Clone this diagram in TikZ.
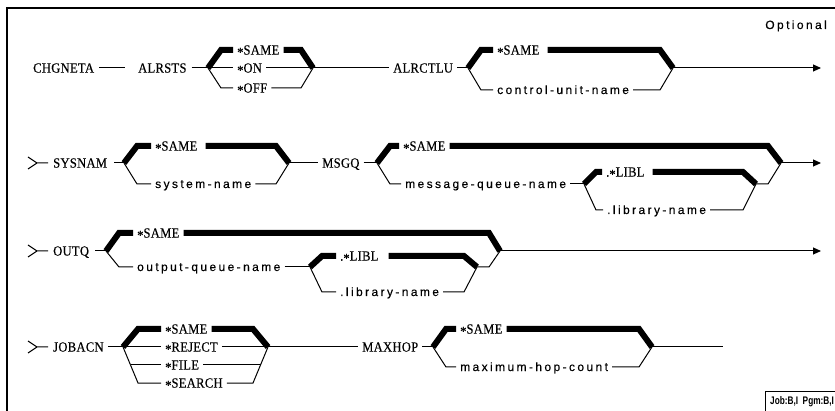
\documentclass[tikz,border=0pt]{standalone}
\usepackage{fontspec}
\usetikzlibrary{arrows.meta}
\setmainfont{Liberation Serif}
\newfontfamily\ucfont[LetterSpace=2,FakeStretch=0.9,FakeBold=0.3]{Liberation Serif}
\newfontfamily\lcfont[LetterSpace=20,FakeBold=0.3]{Liberation Sans}
\newfontfamily\jobfont{Liberation Sans}
\newcommand\Ast{\raisebox{-2.4pt}{*}}
\tikzset{
  kw/.style={inner xsep=4pt, inner ysep=0pt, anchor=west, font=\ucfont\fontsize{14}{16}\selectfont, text height=9.2pt, text depth=0pt},
  vr/.style={inner xsep=4pt, inner ysep=0pt, anchor=west, font=\lcfont\fontsize{12}{14}\selectfont, text height=8pt, text depth=0pt},
  ln/.style={line width=1pt},
  hv/.style={line width=6pt, miter limit=10},
  arr/.style={line width=1pt, -{Triangle[length=8pt,width=7pt]}},
  frame/.style={line width=1.3pt},
}
\begin{document}
\begin{tikzpicture}[x=1pt,y=-1pt]
\useasboundingbox (0,0) rectangle (835,411);
% frame
\draw[frame] (7,411) -- (7,8) -- (835,8);
\node[vr, anchor=east] (optional) at (831,25) {Optional};

% ---------------- Row 1 ----------------
\node[kw] (chg) at (29,68) {CHGNETA};
\node[kw] (alrsts) at (134,68) {ALRSTS};
\draw[ln, shorten <=1pt, shorten >=9pt] (chg.east) -- (alrsts.west);
\coordinate (a1) at (208,68);
\draw[ln, shorten <=1pt] (alrsts.east) -- (a1);
\coordinate (a1t) at (221,50);
\coordinate (a1b) at (221,88);
\node[kw] (a1same) at (233,50) {\Ast SAME};
\node[kw] (a1on) at (233,68) {\Ast ON};
\node[kw] (a1off) at (233,88) {\Ast OFF};
\draw[hv] (a1) -- (a1t) -- (a1same.west);
\draw[ln] (a1) -- (a1on.west);
\draw[ln] (a1) -- (a1b) -- (a1off.west);
\coordinate (a2) at (313,68);
\coordinate (a2t) at (301,50);
\coordinate (a2b) at (301,88);
\draw[hv] (a1same.east) -- (a2t) -- (a2);
\draw[ln] (a1on.east) -- (a2);
\draw[ln] (a1off.east) -- (a2b) -- (a2);
\node[kw] (alrctlu) at (389,68) {ALRCTLU};
\draw[ln] (a2) -- (alrctlu.west);
\coordinate (b1) at (468,68);
\draw[ln] (alrctlu.east) -- (b1);
\coordinate (b1t) at (481,50);
\coordinate (b1b) at (481,90);
\node[kw] (b1same) at (493,50) {\Ast SAME};
\node[vr] (cun) at (493,90) {control-unit-name};
\draw[hv] (b1) -- (b1t) -- (b1same.west);
\draw[ln] (b1) -- (b1b) -- (cun.west);
\coordinate (b2) at (673,68);
\coordinate (b2t) at (660,50);
\coordinate (b2b) at (660,90);
\draw[hv, shorten <=4pt] (b1same.east) -- (b2t) -- (b2);
\draw[ln] (cun.east) -- (b2b) -- (b2);
\coordinate (e1) at (821,68);
\draw[arr] (b2) -- (e1);

% ---------------- Row 2 ----------------
\draw[ln] (28,157) -- (37,163) -- (28,169) (37,163) -- (48,163);
\node[kw] (sysnam) at (49,163) {SYSNAM};
\coordinate (c1) at (124,163);
\draw[ln, shorten <=3pt] (sysnam.east) -- (c1);
\coordinate (c1t) at (137,146);
\coordinate (c1b) at (137,184);
\node[kw] (c1same) at (151,146) {\Ast SAME};
\node[vr] (sysn) at (151,184) {system-name};
\draw[hv] (c1) -- (c1t) -- (c1same.west);
\draw[ln] (c1) -- (c1b) -- (sysn.west);
\coordinate (c2) at (289,163);
\coordinate (c2t) at (276,146);
\coordinate (c2b) at (276,184);
\draw[hv, shorten <=4pt] (c1same.east) -- (c2t) -- (c2);
\draw[ln] (sysn.east) -- (c2b) -- (c2);
\node[kw] (msgq) at (318,163) {MSGQ};
\draw[ln] (c2) -- (msgq.west);
\coordinate (d1) at (377,163);
\draw[ln] (msgq.east) -- (d1);
\coordinate (d1t) at (390,146);
\coordinate (d1b) at (390,184);
\node[kw] (d1same) at (399,146) {\Ast SAME};
\node[vr] (mqn) at (401,184) {message-queue-name};
\draw[hv] (d1) -- (d1t) -- (d1same.west);
\draw[ln] (d1) -- (d1b) -- (mqn.west);
\coordinate (l1) at (584,184);
\draw[ln] (mqn.east) -- (l1);
\coordinate (l1t) at (596,172);
\coordinate (l1b) at (596,210);
\node[kw] (l1libl) at (602,172) {.\Ast LIBL};
\node[vr] (l1lib) at (603,210) {.library-name};
\draw[hv] (l1) -- (l1t) -- (l1libl.west);
\draw[ln] (l1) -- (l1b) -- (l1lib.west);
\coordinate (l2) at (756,184);
\coordinate (l2t) at (743,172);
\coordinate (l2b) at (743,210);
\draw[hv, shorten <=4pt] (l1libl.east) -- (l2t) -- (l2);
\draw[ln] (l1lib.east) -- (l2b) -- (l2);
\coordinate (d2) at (781,163);
\coordinate (d2t) at (768,146);
\coordinate (d2b) at (768,184);
\draw[hv] (d1same.east) -- (d2t) -- (d2);
\draw[ln] (l2) -- (d2b) -- (d2);
\coordinate (e2) at (821,163);
\draw[arr] (d2) -- (e2);

% ---------------- Row 3 ----------------
\draw[ln] (28,245) -- (37,251) -- (28,257) (37,251) -- (48,251);
\node[kw] (outq) at (49,251) {OUTQ};
\coordinate (f1) at (106,251);
\draw[ln, shorten <=2pt] (outq.east) -- (f1);
\coordinate (f1t) at (119,233);
\coordinate (f1b) at (119,267);
\node[kw] (f1same) at (133,233) {\Ast SAME};
\node[vr] (oqn) at (133,267) {output-queue-name};
\draw[hv] (f1) -- (f1t) -- (f1same.west);
\draw[ln] (f1) -- (f1b) -- (oqn.west);
\coordinate (g1) at (310,267);
\draw[ln] (oqn.east) -- (g1);
\coordinate (g1t) at (322,256);
\coordinate (g1b) at (322,292);
\node[kw] (g1libl) at (336,256) {.\Ast LIBL};
\node[vr] (g1lib) at (336,292) {.library-name};
\draw[hv] (g1) -- (g1t) -- (g1libl.west);
\draw[ln] (g1) -- (g1b) -- (g1lib.west);
\coordinate (g2) at (477,267);
\coordinate (g2t) at (464,256);
\coordinate (g2b) at (464,292);
\draw[hv, shorten <=6pt] (g1libl.east) -- (g2t) -- (g2);
\draw[ln] (g1lib.east) -- (g2b) -- (g2);
\coordinate (f2) at (500,251);
\coordinate (f2t) at (489,233);
\coordinate (f2b) at (489,267);
\draw[hv] (f1same.east) -- (f2t) -- (f2);
\draw[ln] (g2) -- (f2b) -- (f2);
\coordinate (e3) at (821,251);
\draw[arr] (f2) -- (e3);

% ---------------- Row 4 ----------------
\draw[ln] (28,341) -- (37,347) -- (28,353) (37,347) -- (48,347);
\node[kw] (jobacn) at (49,347) {JOBACN};
\coordinate (h1) at (123,347);
\draw[ln] (jobacn.east) -- (h1);
\coordinate (h1t) at (138,329);
\coordinate (h1f) at (130.5,365);
\coordinate (h1b) at (138,383);
\node[kw] (h1same) at (161,329) {\Ast SAME};
\node[kw] (h1rej) at (161,347) {\Ast REJECT};
\node[kw] (h1file) at (161,365) {\Ast FILE};
\node[kw] (h1srch) at (161,383) {\Ast SEARCH};
\draw[hv] (h1) -- (h1t) -- (h1same.west);
\draw[ln] (h1) -- (h1rej.west);
\draw[ln] (h1f) -- (h1file.west);
\draw[ln] (h1) -- (h1b) -- (h1srch.west);
\coordinate (h2) at (268,347);
\coordinate (h2t) at (253,329);
\coordinate (h2f) at (260.5,365);
\coordinate (h2b) at (253,383);
\draw[hv] (h1same.east) -- (h2t) -- (h2);
\draw[ln] (h1rej.east) -- (h2);
\draw[ln] (h1file.east) -- (h2f);
\draw[ln] (h1srch.east) -- (h2b) -- (h2);
\node[kw] (maxhop) at (358,347) {MAXHOP};
\draw[ln] (h2) -- (maxhop.west);
\coordinate (m1) at (433,347);
\draw[ln] (maxhop.east) -- (m1);
\coordinate (m1t) at (446,329);
\coordinate (m1b) at (446,367);
\node[kw] (m1same) at (456,329) {\Ast SAME};
\node[vr] (mhc) at (456,367) {maximum-hop-count};
\draw[hv] (m1) -- (m1t) -- (m1same.west);
\draw[ln] (m1) -- (m1b) -- (mhc.west);
\coordinate (m2) at (652,347);
\coordinate (m2t) at (639,329);
\coordinate (m2b) at (639,367);
\draw[hv] (m1same.east) -- (m2t) -- (m2);
\draw[ln] (mhc.east) -- (m2b) -- (m2);
\coordinate (e4) at (723,347);
\draw[ln] (m2) -- (e4);

% ---------------- Job box ----------------
\node[anchor=west, inner sep=0pt, font=\jobfont\bfseries\fontsize{11}{13}\selectfont] (job) at (770,402) {\scalebox{0.75}[1]{Job:B,I\ \ Pgm:B,I}};
\coordinate (jbl) at (765,411);
\coordinate (jtl) at (765,391);
\coordinate (jtr) at (835,391);
\draw[ln] (jbl) -- (jtl) -- (jtr);
\end{tikzpicture}
\end{document}
